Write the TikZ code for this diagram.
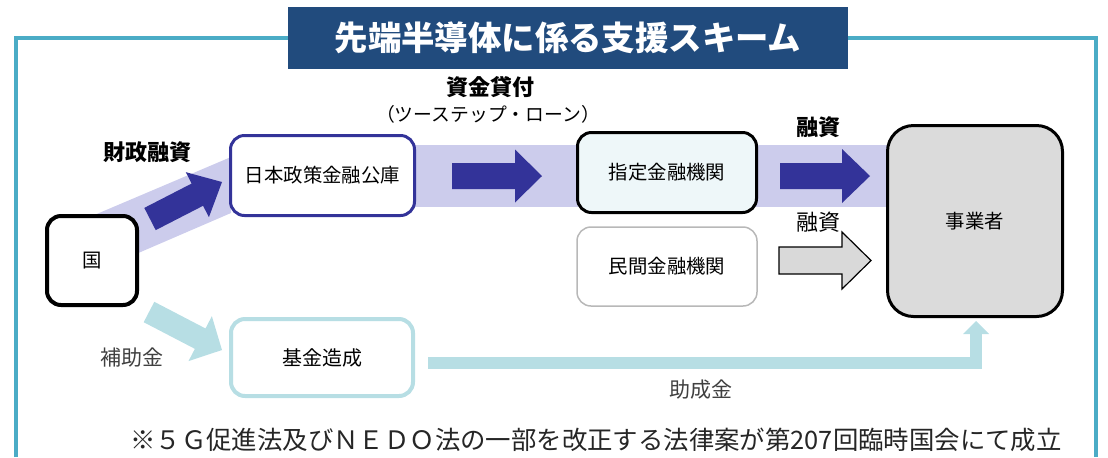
\documentclass[tikz,border=0pt]{standalone}
\usepackage{fontspec}
\setmainfont{Noto Sans CJK JP}
\usetikzlibrary{calc,arrows.meta}

\definecolor{waku}{RGB}{75,172,198}
\definecolor{midashi}{RGB}{33,75,125}
\definecolor{kon}{RGB}{51,51,153}
\definecolor{usumurasaki}{RGB}{204,204,236}
\definecolor{mizu}{RGB}{183,222,228}
\definecolor{usuao}{RGB}{238,247,249}
\definecolor{hai}{RGB}{217,217,217}
\definecolor{sumi}{RGB}{64,64,64}

% fat arrow: style, from, to, half shaft, half head, head length
\newcommand{\futoya}[6]{%
  \coordinate (fy) at ($(#3)!#6!(#2)$);
  \path[#1] ($(#2)!#4!90:(#3)$) -- ($(fy)!#4!90:(#3)$) -- ($(fy)!#5!90:(#3)$) -- (#3)
    -- ($(fy)!#5!-90:(#3)$) -- ($(fy)!#4!-90:(#3)$) -- ($(#2)!#4!-90:(#3)$) -- cycle;
}

\begin{document}
\begin{tikzpicture}[x=0.5pt, y=-0.5pt, inner sep=0pt,
    box/.style={draw, rounded corners=7pt, line width=1.5pt, fill=white,
      font=\fontsize{9.7}{11}\selectfont},
    lbl/.style={font=\fontsize{11}{13}\selectfont\bfseries},
    sub/.style={font=\fontsize{10.5}{12}\selectfont, text=sumi}]
  \useasboundingbox (0,0) rectangle (1108,457);

  \fill[usumurasaki] (322,145) rectangle (975,207);
  \fill[usumurasaki] (92,216) -- (231,157) -- (231,213) -- (92,273) -- cycle;

  \draw[waku, line width=1.75pt] (16,457) -- (16,38) -- (1096,38) -- (1096,457);
  \node[fill=midashi, text=white, minimum width=280pt, minimum height=31pt,
    font=\fontsize{16.7}{18}\selectfont\bfseries] (midasi) at (568,38) {先端半導体に係る支援スキーム};

  \node[box, line width=2pt, minimum width=45pt, minimum height=44.5pt] (kuni) at (92,260.5) {国};
  \node[box, draw=kon, minimum width=92pt, minimum height=40pt] (kouko) at (322.5,175.5) {日本政策金融公庫};
  \node[box, fill=usuao, minimum width=89.5pt, minimum height=40pt] (shitei) at (667,172.5) {指定金融機関};
  \node[box, draw=black!28, line width=0.75pt, minimum width=90pt, minimum height=39.5pt] (minkan) at (667,266.5) {民間金融機関};
  \node[box, fill=hai!95!white, rounded corners=13pt, minimum width=87.5pt, minimum height=95.5pt] (jigyo) at (975,221) {事業者};
  \node[box, draw=mizu, line width=2pt, minimum width=91pt, minimum height=38.5pt,
    font=\fontsize{10}{11}\selectfont] (kikin) at (322,357.5) {基金造成};

  \coordinate (kuni-a) at (150,219);
  \coordinate (kouko-a) at (222,182);
  \coordinate (kouko-b) at (452,176);
  \coordinate (shitei-a) at (542,176);
  \coordinate (shitei-b) at (780,176);
  \coordinate (jigyo-a) at (870,176);
  \coordinate (minkan-b) at (779,260.5);
  \coordinate (jigyo-c) at (871,260.5);
  \coordinate (kuni-d) at (149,312);
  \coordinate (kikin-d) at (222,350);
  \coordinate (kikin-e) at (428,363);
  \coordinate (jigyo-e) at (976,321);

  \futoya{fill=kon}{kuni-a}{kouko-a}{6.25pt}{12.65pt}{13.85pt}
  \futoya{fill=kon}{kouko-b}{shitei-a}{6.5pt}{13.25pt}{13.5pt}
  \futoya{fill=kon}{shitei-b}{jigyo-a}{6.5pt}{13.5pt}{14pt}
  \futoya{fill=hai, draw=black, line width=0.6pt}{minkan-b}{jigyo-c}{6.75pt}{14.25pt}{14.5pt}
  \futoya{fill=mizu}{kuni-d}{kikin-d}{5.75pt}{12.65pt}{12.3pt}
  \draw[mizu, line width=6.25pt, -{Triangle[length=6.5pt, width=13pt, line width=0pt]}] (kikin-e) -| (jigyo-e);

  \node[lbl] (shikin) at (490,87) {資金貸付};
  \node[font=\fontsize{9.4}{11}\selectfont] (twostep) at (488,114) {（ツーステップ・ローン）};
  \node[lbl] (zaisei) at (147,152) {財政融資};
  \node[lbl] (yushi1) at (818,127) {融資};
  \node[font=\fontsize{11}{13}\selectfont] (yushi2) at (818,222) {融資};
  \node[sub] (hojo) at (132,358) {補助金};
  \node[sub] (josei) at (701,390) {助成金};
  \node[font=\fontsize{12.7}{14}\selectfont, text=black!85] (chuki) at (596,440)
    {※５Ｇ促進法及びＮＥＤＯ法の一部を改正する法律案が第207回臨時国会にて成立};
\end{tikzpicture}
\end{document}
